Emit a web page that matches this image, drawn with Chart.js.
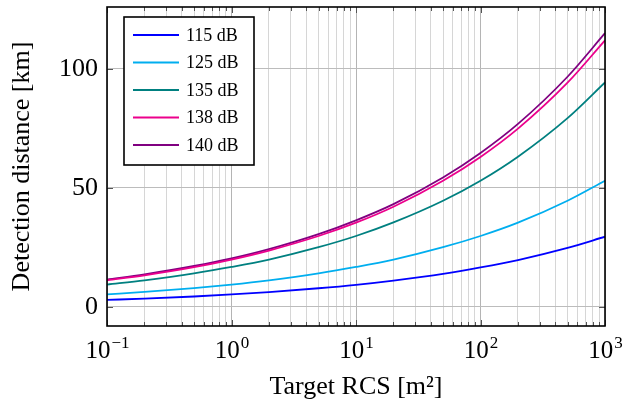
<!DOCTYPE html>
<html>
<head>
<meta charset="utf-8">
<script src="https://cdn.jsdelivr.net/npm/chart.js@4"></script>
<style>
  html, body { margin: 0; padding: 0; background: #fff; }
  #wrap { width: 637px; height: 407px; }
</style>
</head>
<body>
<div id="wrap"><canvas id="chart"></canvas></div>
<script>
// target RCS values [m^2]
const rcs = [0.1, 0.2, 0.5, 1, 2, 5, 10, 20, 50, 100, 200, 500, 1000];

const seriesLabels = ["115 dB", "125 dB", "135 dB", "138 dB", "140 dB"];

// detection distance [km]
const dist115 = [2.95, 3.5, 4.4, 5.25, 6.25, 7.85, 9.3, 11.1, 13.9, 16.6, 19.7, 24.8, 29.5];
const dist125 = [5.3, 6.3, 7.9, 9.4, 11.2, 14.1, 16.8, 19.9, 25.1, 29.8, 35.4, 44.6, 53];
const dist135 = [9.4, 11.2, 14.1, 16.8, 19.9, 25.1, 29.8, 35.5, 44.6, 53, 63.1, 79.3, 94.3];
const dist138 = [11.2, 13.3, 16.7, 19.9, 23.7, 29.8, 35.4, 42.1, 53, 63, 74.9, 94.2, 112];
const dist140 = [11.5, 13.7, 17.2, 20.4, 24.3, 30.6, 36.4, 43.2, 54.4, 64.7, 76.9, 96.7, 115];

const yTicks = [0, 50, 100];
const xDecades = [-1, 0, 1, 2, 3];

const colors = ["#0000ff", "#00aeef", "#008080", "#ec008c", "#800080"];
const allSeries = [dist115, dist125, dist135, dist138, dist140];

const serif = "'Liberation Serif', 'DejaVu Serif', serif";

// all 1..9 x 10^n positions for the log axis
const xTickValues = [];
for (let e = -1; e < 3; e++) {
    for (let m = 1; m < 10; m++) xTickValues.push(m * Math.pow(10, e));
}
xTickValues.push(1000);

const isDecade = (v) => Math.abs(Math.log10(v) - Math.round(Math.log10(v))) < 1e-9;

const framePlugin = {
    id: "frame",
    afterDraw(chart) {
        const ctx = chart.ctx;
        const a = chart.chartArea;
        const xs = chart.scales.x;
        const ys = chart.scales.y;
        ctx.save();

        // inner tick marks
        ctx.strokeStyle = "#555";
        ctx.lineWidth = 1;
        xTickValues.forEach(v => {
            const px = Math.round(xs.getPixelForValue(v)) + 0.5;
            const len = isDecade(v) ? 6 : 4;
            ctx.beginPath();
            ctx.moveTo(px, a.bottom); ctx.lineTo(px, a.bottom - len);
            ctx.moveTo(px, a.top); ctx.lineTo(px, a.top + len);
            ctx.stroke();
        });
        yTicks.forEach(v => {
            const py = Math.round(ys.getPixelForValue(v)) + 0.5;
            ctx.beginPath();
            ctx.moveTo(a.left, py); ctx.lineTo(a.left + 6, py);
            ctx.moveTo(a.right, py); ctx.lineTo(a.right - 6, py);
            ctx.stroke();
        });

        // plot frame
        ctx.strokeStyle = "#000";
        ctx.lineWidth = 1.6;
        ctx.strokeRect(a.left, a.top, a.right - a.left, a.bottom - a.top);

        // x decade labels with superscript exponent
        ctx.fillStyle = "#000";
        ctx.textBaseline = "alphabetic";
        xDecades.forEach(e => {
            const px = xs.getPixelForValue(Math.pow(10, e));
            const exp = e < 0 ? "\u2212" + Math.abs(e) : String(e);
            ctx.font = "25px " + serif;
            const wBase = ctx.measureText("10").width;
            ctx.font = "17px " + serif;
            const wExp = ctx.measureText(exp).width;
            const x0 = px - (wBase + wExp) / 2;
            const baseY = a.bottom + 32;
            ctx.font = "25px " + serif;
            ctx.textAlign = "left";
            ctx.fillText("10", x0, baseY);
            ctx.font = "17px " + serif;
            ctx.fillText(exp, x0 + wBase + 1, baseY - 10);
        });

        // legend box
        const lx = a.left + 17, ly = a.top + 10, lw = 130, lh = 148;
        ctx.fillStyle = "#fff";
        ctx.fillRect(lx, ly, lw, lh);
        ctx.strokeStyle = "#000";
        ctx.lineWidth = 1.6;
        ctx.strokeRect(lx, ly, lw, lh);
        ctx.font = "18px " + serif;
        ctx.textBaseline = "middle";
        ctx.textAlign = "left";
        chart.data.datasets.forEach((ds, i) => {
            const cy = ly + 18 + i * 27.5;
            ctx.strokeStyle = ds.borderColor;
            ctx.lineWidth = 2;
            ctx.beginPath();
            ctx.moveTo(lx + 9, cy); ctx.lineTo(lx + 55, cy);
            ctx.stroke();
            ctx.fillStyle = "#000";
            ctx.fillText(ds.label, lx + 62, cy + 1);
        });
        ctx.restore();
    }
};

const datasets = allSeries.map((vals, i) => ({
    label: seriesLabels[i],
    data: rcs.map((x, j) => ({ x, y: vals[j] })),
    borderColor: colors[i],
    backgroundColor: colors[i],
    borderWidth: 1.8,
    pointRadius: 0,
    cubicInterpolationMode: "monotone",
    fill: false
}));

new Chart(document.getElementById("chart"), {
    type: "line",
    data: { datasets },
    options: {
        responsive: true,
        maintainAspectRatio: false,
        animation: false,
        layout: { padding: { top: 7, right: 32, left: 0, bottom: 0 } },
        plugins: {
            legend: { display: false },
            tooltip: { enabled: false }
        },
        scales: {
            x: {
                type: "logarithmic",
                min: 0.1,
                max: 1000,
                afterBuildTicks: (axis) => {
                    axis.ticks = xTickValues.map(v => ({ value: v }));
                },
                afterFit: (axis) => {
                    axis.height = 81;
                    axis.paddingLeft = 0;
                    axis.paddingRight = 0;
                },
                ticks: { display: false, autoSkip: false },
                grid: {
                    drawTicks: false,
                    color: (c) => isDecade(c.tick.value) ? "#b4b4b4" : "#d6d6d6",
                    lineWidth: 1
                },
                border: { display: false },
                title: {
                    display: true,
                    text: "Target RCS [m\u00b2]",
                    color: "#000",
                    font: { family: serif, size: 26 },
                    padding: { top: 0, bottom: 4 }
                }
            },
            y: {
                min: -8,
                max: 126,
                afterBuildTicks: (axis) => {
                    axis.ticks = yTicks.map(v => ({ value: v }));
                },
                afterFit: (axis) => {
                    axis.width = 107;
                    axis.paddingTop = 0;
                    axis.paddingBottom = 0;
                },
                ticks: {
                    color: "#000",
                    padding: 9,
                    font: { family: serif, size: 26 }
                },
                grid: {
                    drawTicks: false,
                    color: "#bcbcbc",
                    lineWidth: 1
                },
                border: { display: false },
                title: {
                    display: true,
                    text: "Detection distance [km]",
                    color: "#000",
                    font: { family: serif, size: 26 },
                    padding: { top: 7, bottom: 0 }
                }
            }
        }
    },
    plugins: [framePlugin]
});
</script>
</body>
</html>
